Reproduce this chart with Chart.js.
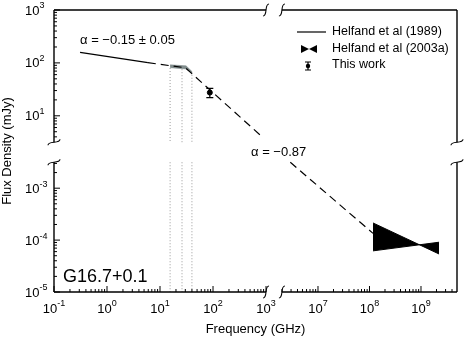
<!DOCTYPE html>
<html>
<head>
<meta charset="utf-8">
<script src="https://cdn.jsdelivr.net/npm/chart.js@4.4.0/dist/chart.umd.min.js"></script>
<style>
  html, body { margin: 0; padding: 0; background: #fff; }
</style>
</head>
<body>
<canvas id="grafica" width="467" height="344"></canvas>
<script>
// Helfand et al (1989), linea solida (GHz, mJy)
const helfand89Freq = [0.31, 5.9];
const helfand89Flux = [158, 101];

// extrapolacion a trazos (null = hueco en el corte de ejes)
const trazoFreq = [5.9, 30, 870, null, 2.9e6, 1.17e8];
const trazoFlux = [101, 81, 3.9, null, 3.16e-3, 1.35e-4];

// zona gris
const grisFreq = [15.5, 31, 40];
const grisSup = [92, 88, 69];
const grisInf = [81, 77, 64];

// Helfand et al (2003a), pajarita de rayos X
const xrayFreq = [1.17e8, 2.24e9];
const xraySup = [2.14e-4, 5.4e-5];
const xrayInf = [6.2e-5, 9.1e-5];

// This work
const esteFreq = [87];
const esteFlux = [27.5];
const esteErrInf = [22];
const esteErrSup = [33];

// lineas punteadas verticales
const puntFreq = [15.5, 26, 40];
const puntTope = [80, 76, 68];

// etiquetas de los ejes
const xTickFreqs = [0.1, 1, 10, 100, 1000, 1e7, 1e8, 1e9];
const xTickExp = ["-1", "0", "1", "2", "3", "7", "8", "9"];
const yTickFlux = [1e-5, 1e-4, 1e-3, 10, 100, 1000];
const yTickExp = ["-5", "-4", "-3", "1", "2", "3"];

const FUENTE = "Liberation Sans, Arial, sans-serif";

// ejes cortados: log10 -> coordenada de la grafica
function xu(f) {
  const l = Math.log10(f);
  if (l <= 4.5) return l;
  return 3.3 + (l - 6.3) * (51.5 / 53);
}
function yv(s) {
  const l = Math.log10(s);
  if (l < -1) return l;
  return -2.115 + (l - 0.5) * (53 / 52);
}

function puntos(fs, ss) {
  return fs.map((f, i) => (f === null ? { x: NaN, y: null } : { x: xu(f), y: yv(ss[i]) }));
}

// marcas menores de los ejes log
const xMenores = [];
for (let d = -1; d <= 2; d++) for (let k = 2; k <= 9; k++) xMenores.push(k * Math.pow(10, d));
for (let d = 6; d <= 9; d++)
  for (let k = 2; k <= 9; k++) {
    const l = Math.log10(k) + d;
    if (l >= 6.3 && l <= 9.65) xMenores.push(k * Math.pow(10, d));
  }
const yMenores = [];
for (let d = -5; d <= -3; d++)
  for (let k = 2; k <= 9; k++) {
    if (Math.log10(k) + d <= -2.5) yMenores.push(k * Math.pow(10, d));
  }
for (let d = 0; d <= 2; d++)
  for (let k = 2; k <= 9; k++) {
    if (Math.log10(k) + d >= 0.5) yMenores.push(k * Math.pow(10, d));
  }

function corteV(ctx, x, y) {
  ctx.beginPath();
  ctx.moveTo(x + 3, y - 6);
  ctx.bezierCurveTo(x - 2, y - 6, x + 2, y + 6, x - 3, y + 6);
  ctx.stroke();
}
function corteH(ctx, x, y) {
  ctx.beginPath();
  ctx.moveTo(x - 6, y + 3);
  ctx.bezierCurveTo(x - 6, y - 2, x + 6, y + 2, x + 6, y - 3);
  ctx.stroke();
}

const dibujoExtra = {
  id: "dibujoExtra",
  afterDatasetsDraw(chart) {
    const ctx = chart.ctx;
    const xs = chart.scales.x;
    const ys = chart.scales.y;
    const a = chart.chartArea;
    const px = (f) => xs.getPixelForValue(xu(f));
    const py = (s) => ys.getPixelForValue(yv(s));

    ctx.save();
    ctx.strokeStyle = "#000";
    ctx.fillStyle = "#000";

    // barra de error de "This work"
    ctx.lineWidth = 1.2;
    esteFreq.forEach((f, i) => {
      const x = px(f);
      const y1 = py(esteErrInf[i]);
      const y2 = py(esteErrSup[i]);
      ctx.beginPath();
      ctx.moveTo(x, y1); ctx.lineTo(x, y2);
      ctx.moveTo(x - 3.5, y1); ctx.lineTo(x + 3.5, y1);
      ctx.moveTo(x - 3.5, y2); ctx.lineTo(x + 3.5, y2);
      ctx.stroke();
    });

    // marco con cortes
    const xCorte1 = xs.getPixelForValue(3);
    const xCorte2 = xs.getPixelForValue(3.3);
    const yCorte1 = py(Math.pow(10, 0.5));
    const yCorte2 = ys.getPixelForValue(-2.5);
    ctx.lineWidth = 1.4;
    ctx.beginPath();
    [a.top, a.bottom].forEach((y) => {
      ctx.moveTo(a.left, y); ctx.lineTo(xCorte1, y);
      ctx.moveTo(xCorte2, y); ctx.lineTo(a.right, y);
    });
    [a.left, a.right].forEach((x) => {
      ctx.moveTo(x, a.top); ctx.lineTo(x, yCorte1);
      ctx.moveTo(x, yCorte2); ctx.lineTo(x, a.bottom);
    });
    ctx.stroke();

    ctx.lineWidth = 1.1;
    [a.top, a.bottom].forEach((y) => { corteV(ctx, xCorte1, y); corteV(ctx, xCorte2, y); });
    [a.left, a.right].forEach((x) => { corteH(ctx, x, yCorte1); corteH(ctx, x, yCorte2); });

    // marcas hacia dentro
    ctx.lineWidth = 1;
    ctx.beginPath();
    xTickFreqs.forEach((f) => { const x = px(f); ctx.moveTo(x, a.bottom); ctx.lineTo(x, a.bottom - 6); });
    xMenores.forEach((f) => { const x = px(f); ctx.moveTo(x, a.bottom); ctx.lineTo(x, a.bottom - 3); });
    yTickFlux.forEach((s) => { const y = py(s); ctx.moveTo(a.left, y); ctx.lineTo(a.left + 6, y); });
    yMenores.forEach((s) => { const y = py(s); ctx.moveTo(a.left, y); ctx.lineTo(a.left + 3, y); });
    ctx.stroke();

    // etiquetas 10^n
    const fBase = "13px " + FUENTE;
    const fExp = "9px " + FUENTE;
    ctx.textBaseline = "middle";
    ctx.textAlign = "left";
    xTickFreqs.forEach((f, i) => {
      ctx.font = fBase;
      const wb = ctx.measureText("10").width;
      ctx.font = fExp;
      const we = ctx.measureText(xTickExp[i]).width;
      const x0 = px(f) - (wb + we) / 2;
      const y0 = a.bottom + 17;
      ctx.font = fBase;
      ctx.fillText("10", x0, y0);
      ctx.font = fExp;
      ctx.fillText(xTickExp[i], x0 + wb, y0 - 5);
    });
    yTickFlux.forEach((s, i) => {
      const y0 = py(s) + 1;
      ctx.font = fBase;
      const wb = ctx.measureText("10").width;
      ctx.fillText("10", 25, y0);
      ctx.font = fExp;
      ctx.fillText(yTickExp[i], 25 + wb, y0 - 5);
    });

    // textos
    ctx.font = "13px " + FUENTE;
    ctx.fillText("\u03b1 = \u22120.15 \u00b1 0.05", 80, 40);
    ctx.fillText("\u03b1 = \u22120.87", 251, 152);
    ctx.font = "18px " + FUENTE;
    ctx.fillText("G16.7+0.1", 63, 277);

    // leyenda
    ctx.font = "12.5px " + FUENTE;
    ctx.lineWidth = 1.2;
    ctx.beginPath();
    ctx.moveTo(297, 32); ctx.lineTo(326, 32);
    ctx.stroke();
    ctx.fillText("Helfand et al (1989)", 332, 32);

    ctx.beginPath();
    ctx.moveTo(301, 45); ctx.lineTo(309, 49); ctx.lineTo(301, 53); ctx.closePath();
    ctx.moveTo(317, 45); ctx.lineTo(309, 49); ctx.lineTo(317, 53); ctx.closePath();
    ctx.fill();
    ctx.fillText("Helfand et al (2003a)", 332, 49);

    ctx.beginPath();
    ctx.moveTo(308, 62); ctx.lineTo(308, 70);
    ctx.moveTo(305, 62); ctx.lineTo(311, 62);
    ctx.moveTo(305, 70); ctx.lineTo(311, 70);
    ctx.stroke();
    ctx.beginPath();
    ctx.arc(308, 66, 2.2, 0, Math.PI * 2);
    ctx.fill();
    ctx.fillText("This work", 332, 65);

    ctx.restore();
  },
};

const datasets = [
  {
    label: "Helfand et al (1989)",
    data: puntos(helfand89Freq, helfand89Flux),
    borderColor: "#000",
    borderWidth: 1.2,
    pointRadius: 0,
  },
  {
    label: "extrapolacion",
    data: puntos(trazoFreq, trazoFlux),
    borderColor: "#000",
    borderWidth: 1.2,
    borderDash: [8, 5],
    pointRadius: 0,
    spanGaps: false,
  },
  {
    label: "gris sup",
    data: puntos(grisFreq, grisSup),
    borderColor: "#7f8b8b",
    backgroundColor: "#7f8b8b",
    borderWidth: 0.5,
    pointRadius: 0,
    fill: "+1",
  },
  {
    label: "gris inf",
    data: puntos(grisFreq, grisInf),
    borderColor: "#7f8b8b",
    borderWidth: 0.5,
    pointRadius: 0,
  },
  {
    label: "Helfand et al (2003a)",
    data: puntos(xrayFreq, xraySup),
    borderColor: "#000",
    backgroundColor: "#000",
    borderWidth: 1,
    pointRadius: 0,
    fill: "+1",
  },
  {
    label: "xray inf",
    data: puntos(xrayFreq, xrayInf),
    borderColor: "#000",
    borderWidth: 1,
    pointRadius: 0,
  },
];

puntFreq.forEach((f, i) => {
  datasets.push({
    label: "punteada " + i,
    data: puntos([f, f, null, f, f], [puntTope[i], 3.16, null, 3.16e-3, 1e-5]),
    borderColor: "#9a9a9a",
    borderWidth: 1,
    borderDash: [1, 2],
    pointRadius: 0,
    spanGaps: false,
  });
});

datasets.push({
  label: "This work",
  data: puntos(esteFreq, esteFlux),
  showLine: false,
  pointRadius: 2.5,
  pointBackgroundColor: "#000",
  pointBorderColor: "#000",
});

const config = {
  type: "line",
  data: { datasets: datasets },
  options: {
    responsive: false,
    animation: false,
    layout: { padding: { top: 10, right: 10, left: 0, bottom: 0 } },
    plugins: { legend: { display: false }, tooltip: { enabled: false } },
    scales: {
      x: {
        type: "linear",
        min: -1,
        max: xu(5e9),
        grid: { display: false },
        border: { display: false },
        ticks: { display: false },
        title: {
          display: true,
          text: "Frequency (GHz)",
          color: "#000",
          font: { family: FUENTE, size: 13 },
          padding: { top: 0, bottom: 7 },
        },
        afterFit: (s) => { s.height = 52; },
      },
      y: {
        type: "linear",
        min: -5,
        max: yv(1000),
        grid: { display: false },
        border: { display: false },
        ticks: { display: false },
        title: {
          display: true,
          text: "Flux Density (mJy)",
          color: "#000",
          font: { family: FUENTE, size: 13 },
          padding: { top: 0, bottom: 0 },
        },
        afterFit: (s) => { s.width = 54; },
      },
    },
  },
  plugins: [dibujoExtra],
};

new Chart(document.getElementById("grafica").getContext("2d"), config);
</script>
</body>
</html>
